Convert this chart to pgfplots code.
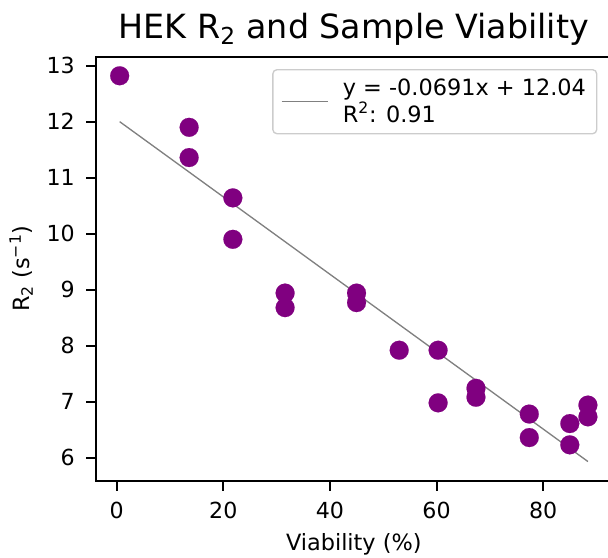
\documentclass[border=0pt]{standalone}
\usepackage{fontspec}
\setmainfont{DejaVu Sans}
\usepackage{pgfplots}
\pgfplotsset{compat=1.18}
\definecolor{mplpurple}{HTML}{800080}
\definecolor{mplgray}{HTML}{808080}
\definecolor{legendedge}{HTML}{CCCCCC}
\begin{document}
\begin{tikzpicture}
\begin{axis}[
  at={(0,0)}, anchor=south west,
  scale only axis, width=386.3pt, height=318.2pt,
  xmin=-3.82, xmax=92.79, ymin=5.588, ymax=13.164,
  xtick={0,20,40,60,80}, ytick={6,7,8,9,10,11,12,13},
  tick align=outside, tick pos=left,
  major tick length=7.5pt,
  axis line style={line width=1.5pt},
  every tick/.style={black, line width=1.5pt},
  /pgf/number format/assume math mode=true,
  ticklabel style={font=\fontsize{16.6}{19}\selectfont},
  xticklabel style={anchor=base, yshift=-21.1pt},
  yticklabel style={anchor=east, inner xsep=0pt, xshift=-8.5pt},
  label style={font=\fontsize{16.8}{19}\selectfont},
  title={HEK R\textsubscript{2} and Sample Viability},
  title style={font=\fontsize{25}{30}\selectfont, at={([yshift=7.3pt]axis description cs:0.5,1)}, anchor=base},
  xlabel={Viability (\%)},
  xlabel style={at={([yshift=-52.4pt]axis description cs:0.5,0)}, anchor=base},
  ylabel={R\textsubscript{2} (s\textsuperscript{−1})},
  ylabel style={at={([xshift=-50.3pt]axis description cs:0,0.5)}, anchor=base},
  legend style={at={(rel axis cs:1,1)}, anchor=north east, xshift=-10.5pt, yshift=-9.4pt,
    draw=legendedge, line width=1pt, rounded corners=3pt, fill=white, fill opacity=0.8, text opacity=1,
    font=\fontsize{16.8}{20}\selectfont, inner xsep=6pt, inner ysep=5pt,
    cells={anchor=west, align=left}},
]
\addplot[mplpurple, only marks, mark=*, mark size=7.1pt, mark options={draw=mplpurple, fill=mplpurple, line width=0.1pt}, forget plot] coordinates {
  (0.57,12.82) (13.6,11.90) (13.6,11.36) (21.8,10.64) (21.8,9.90)
  (31.6,8.94) (31.6,8.68) (45.0,8.94) (45.0,8.77) (53.0,7.92)
  (60.3,7.92) (60.3,6.98) (67.4,7.24) (67.4,7.08) (77.4,6.78)
  (77.4,6.36) (85.0,6.61) (85.0,6.23) (88.4,6.94) (88.4,6.73)
};
\addplot[mplgray, line width=1pt, no marks,
  legend image code/.code={\draw[mplgray, line width=1pt] (0pt,0pt) -- (34.5pt,0pt); \path[draw=none] (34.5pt,0pt) -- (44pt,0pt);}]
  coordinates {(0.57,12.001) (88.4,5.932)};
\addlegendentry{y = -0.0691x + 12.04\\R\textsuperscript{2}: 0.91}
\end{axis}
\pgfresetboundingbox
\path[use as bounding box] (-72.2pt,-57.2pt) rectangle (383.8pt,360.6pt);
\end{tikzpicture}
\end{document}
